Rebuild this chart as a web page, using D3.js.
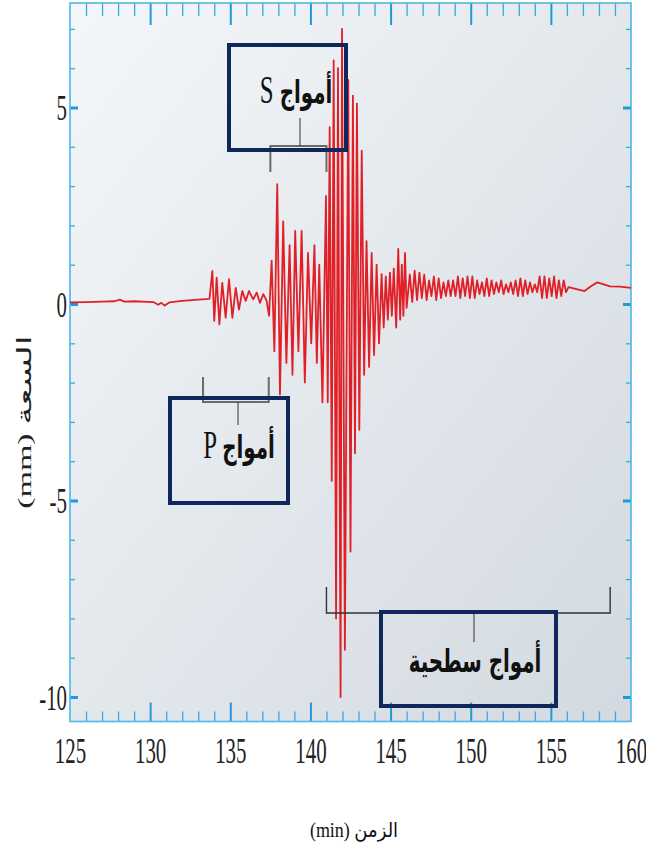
<!DOCTYPE html>
<html>
<head>
<meta charset="utf-8">
<script src="https://cdn.jsdelivr.net/npm/d3@7"></script>
<style>
  body { margin: 0; background: #fff; }
  svg { display: block; }
</style>
</head>
<body>
<div id="chart"></div>
<script>
// seismogram turning points (time in min, amplitude in mm)
const quietTime = [125, 126, 127, 127.8, 128.1, 128.4, 129, 130.2, 130.5, 130.7, 130.9, 131.2, 132, 133, 133.7];
const quietAmp  = [0.04, 0.05, 0.06, 0.07, 0.11, 0.06, 0.07, 0.05, -0.02, 0.03, -0.04, 0.04, 0.08, 0.11, 0.13];

const pTime = [133.88, 134.0, 134.15, 134.32, 134.5, 134.71, 134.92, 135.13, 135.34, 135.54, 135.75, 135.96, 136.17, 136.43, 136.65, 136.85, 137.06, 137.27];
const pAmp  = [0.84, -0.43, 0.67, -0.52, 0.54, -0.35, 0.63, -0.35, 0.41, -0.14, 0.33, 0.08, 0.33, 0.12, 0.29, 0.03, 0.25, 0.08];

const sTime = [137.42, 137.58, 137.75, 137.93, 138.1, 138.3, 138.5, 138.7, 138.88, 139.05, 139.25, 139.45, 139.65, 139.85, 140.05, 140.25, 140.4, 140.55, 140.75];
const sAmp  = [-0.3, 1.1, -1.2, 3.05, -2.3, 2.1, -1.5, 1.5, -1.8, 1.86, -1.2, 1.86, -2.0, 1.3, -1.0, 1.5, -1.5, 1.0, -2.5];

const surfTime = [140.97, 141.08, 141.2, 141.33, 141.45, 141.6, 141.72, 141.88, 141.97, 142.15, 142.36, 142.5, 142.65, 142.78, 142.9, 143.05, 143.2, 143.35, 143.5, 143.66, 143.82, 143.97, 144.13, 144.28, 144.44, 144.57, 144.7, 144.83, 144.96, 145.08, 145.2, 145.35, 145.48, 145.6, 145.7, 145.8, 145.9, 146.0];
const surfAmp  = [2.75, -2.5, 4.5, -4.5, 6.2, -8.0, 6.0, -10.0, 7.0, -8.8, 5.7, -6.3, 5.3, -3.8, 5.1, -3.2, 3.9, -1.8, 1.6, -1.6, 1.3, -1.3, 1.0, -1.0, 0.76, -0.6, 0.7, -0.4, 0.8, -0.3, 0.9, -0.6, 1.4, -0.4, 1.0, -0.3, 1.3, -0.1];

const codaTime = [146.2, 146.35, 146.5, 146.65, 146.8, 146.95, 147.1, 147.25, 147.4, 147.55, 147.7, 147.85, 148.0, 148.15, 148.3, 148.45, 148.6, 148.75, 148.9, 149.05, 149.2, 149.35, 149.5, 149.65, 149.8, 149.95, 150.1, 150.25, 150.4, 150.55, 150.7, 150.85, 151.0, 151.15, 151.3, 151.45, 151.6, 151.75, 151.9, 152.05, 152.2, 152.35, 152.5, 152.65, 152.8, 152.95, 153.1, 153.25, 153.4, 153.55, 153.7, 153.85, 154.0, 154.15, 154.3, 154.45, 154.6, 154.75, 154.9, 155.05, 155.2, 155.35, 155.5, 155.65, 155.8, 155.95];
const codaAmp  = [0.75, 0.05, 0.85, 0.1, 0.8, 0.15, 0.75, 0.1, 0.6, 0.2, 0.7, 0.1, 0.65, 0.15, 0.55, 0.2, 0.6, 0.2, 0.6, 0.2, 0.7, 0.15, 0.65, 0.2, 0.7, 0.15, 0.7, 0.15, 0.6, 0.25, 0.55, 0.2, 0.65, 0.2, 0.6, 0.25, 0.55, 0.3, 0.6, 0.25, 0.5, 0.3, 0.55, 0.25, 0.6, 0.2, 0.65, 0.2, 0.6, 0.25, 0.55, 0.3, 0.5, 0.3, 0.7, 0.15, 0.7, 0.15, 0.65, 0.2, 0.7, 0.15, 0.6, 0.2, 0.6, 0.3];

const tailTime = [156.1, 156.6, 157.1, 157.5, 157.9, 158.3, 158.7, 159.3, 160];
const tailAmp  = [0.43, 0.38, 0.33, 0.45, 0.55, 0.5, 0.45, 0.44, 0.41];

// axes
const xTicks = [125, 130, 135, 140, 145, 150, 155, 160];
const yTicks = [5, 0, -5, -10];
const xMinor = d3.range(126, 160);
const yMinor = d3.range(-10, 8);

// wave-phase brackets [start, end] in minutes and their labels
const sRange = [137.5, 141.0];
const pRange = [133.3, 137.4];
const surfRange = [141.0, 158.7];
const sLabel = ["S ", "أمواج"];
const pLabel = ["P ", "أمواج"];
const surfLabel = "أمواج سطحية";
const xTitle = ["(min) ", "الزمن"];
const yTitle = ["(mm) ", "السعة"];

const width = 646, height = 851;
const plot = { left: 70, right: 631, top: 3, bottom: 721.5 };

const svg = d3.select("#chart").append("svg")
  .attr("width", width)
  .attr("height", height);

const x = d3.scaleLinear().domain([125, 160]).range([plot.left, plot.right]);
const y = d3.scaleLinear().domain([-10, 5]).range([697, 107.5]);

// background gradient of the plot area
const defs = svg.append("defs");
const grad = defs.append("linearGradient")
  .attr("id", "bg").attr("x1", "0").attr("y1", "0").attr("x2", "1").attr("y2", "1");
grad.append("stop").attr("offset", "0%").attr("stop-color", "#f4f7f9");
grad.append("stop").attr("offset", "50%").attr("stop-color", "#e3e8ed");
grad.append("stop").attr("offset", "100%").attr("stop-color", "#d2d9e0");

svg.append("rect")
  .attr("x", plot.left).attr("y", plot.top)
  .attr("width", plot.right - plot.left).attr("height", plot.bottom - plot.top)
  .attr("fill", "url(#bg)");

// ticks: bottom + top (inward), left + right (inward)
function tickAxis(axis, values, size, tr, color, sw) {
  const g = svg.append("g")
    .attr("transform", tr)
    .call(axis.tickValues(values).tickSize(size).tickFormat(""));
  g.select(".domain").remove();
  g.selectAll("line").attr("stroke", color).attr("stroke-width", sw);
  return g;
}
const majorX = [130, 135, 140, 145, 150, 155];
tickAxis(d3.axisBottom(x), xMinor.filter(d => d % 5), -10, `translate(0,${plot.bottom})`, "#3aa9dd", 1.3);
tickAxis(d3.axisBottom(x), majorX, -19, `translate(0,${plot.bottom})`, "#1e9ada", 2);
tickAxis(d3.axisTop(x), xMinor.filter(d => d % 5), -13, `translate(0,${plot.top})`, "#3aa9dd", 1.3);
tickAxis(d3.axisTop(x), majorX, -22, `translate(0,${plot.top})`, "#1e9ada", 2);
tickAxis(d3.axisLeft(y), yMinor.filter(d => d % 5), -5, `translate(${plot.left},0)`, "#3aa9dd", 1.3);
tickAxis(d3.axisLeft(y), yTicks, -8, `translate(${plot.left},0)`, "#1e9ada", 3);
tickAxis(d3.axisRight(y), yMinor.filter(d => d % 5), -5, `translate(${plot.right},0)`, "#3aa9dd", 1.3);
tickAxis(d3.axisRight(y), yTicks, -8, `translate(${plot.right},0)`, "#1e9ada", 3);

// frame
svg.append("rect")
  .attr("x", plot.left).attr("y", plot.top)
  .attr("width", plot.right - plot.left).attr("height", plot.bottom - plot.top)
  .attr("fill", "none").attr("stroke", "#4db7e6").attr("stroke-width", 1.6);

// tick labels (tall narrow serif)
const xLab = svg.append("g")
  .attr("transform", `translate(0,${plot.bottom})`)
  .call(d3.axisBottom(x).tickValues(xTicks).tickSize(0).tickFormat(d3.format("d")));
xLab.select(".domain").remove();
xLab.selectAll("text")
  .attr("y", 0).attr("dy", 0)
  .attr("transform", "translate(0,41) scale(0.58,1)")
  .attr("fill", "#222")
  .style("font-family", "'Liberation Serif', serif")
  .style("font-size", "36px");

const yLab = svg.append("g")
  .attr("transform", `translate(${plot.left - 3},0)`)
  .call(d3.axisLeft(y).tickValues(yTicks).tickSize(0).tickFormat(d => d < 0 ? "-" + Math.abs(d) : d));
yLab.select(".domain").remove();
yLab.selectAll("text")
  .attr("x", 0).attr("dy", 0)
  .attr("transform", "translate(0,12) scale(0.58,1)")
  .attr("fill", "#222")
  .style("font-family", "'Liberation Serif', serif")
  .style("font-size", "36px");

// the seismogram
const trace = d3.zip(
  [].concat(quietTime, pTime, sTime, surfTime, codaTime, tailTime),
  [].concat(quietAmp, pAmp, sAmp, surfAmp, codaAmp, tailAmp)
);
svg.append("path")
  .datum(trace)
  .attr("fill", "none")
  .attr("stroke", "#e11f27")
  .attr("stroke-width", 1.8)
  .attr("stroke-linejoin", "round")
  .attr("d", d3.line().x(d => x(d[0])).y(d => y(d[1])));

// brackets
function bracket(range, yLine, yEnd, color, sw) {
  const x0 = x(range[0]), x1 = x(range[1]);
  svg.append("path")
    .attr("d", `M${x0},${yEnd}V${yLine}H${x1}V${yEnd}`)
    .attr("fill", "none").attr("stroke", color).attr("stroke-width", sw);
}
function stem(xm, y0, y1) {
  svg.append("line").attr("x1", xm).attr("x2", xm).attr("y1", y0).attr("y2", y1)
    .attr("stroke", "#333").attr("stroke-width", 1);
}
bracket(sRange, 146, 172, "#6b6b6b", 2);
stem(300, 118, 146);
bracket(pRange, 402, 377, "#6b6b6b", 2);
stem(238, 402, 425);
bracket(surfRange, 613, 587, "#333", 1.4);
stem(474, 613, 642);

// label boxes
function box(x0, y0, x1, y1) {
  svg.append("rect")
    .attr("x", x0).attr("y", y0).attr("width", x1 - x0).attr("height", y1 - y0)
    .attr("fill", "none").attr("stroke", "#10275c").attr("stroke-width", 4);
}
box(229, 45, 346, 150);
box(170, 398, 288, 503);
box(381, 612, 556, 706);

function waveLabel(parts, cx, cy) {
  const t = svg.append("text")
    .attr("transform", `translate(${cx},${cy}) scale(0.62,1)`)
    .attr("text-anchor", "middle")
    .attr("fill", "#111");
  t.append("tspan").text(parts[0])
    .style("font-family", "'Liberation Serif', serif").style("font-size", "40px");
  t.append("tspan").text(parts[1])
    .style("font-family", "'DejaVu Sans', sans-serif").style("font-size", "32px").style("font-weight", "bold");
}
waveLabel(sLabel, 296, 103);
waveLabel(pLabel, 239, 458);

svg.append("text")
  .attr("transform", "translate(475,672) scale(0.62,1)")
  .attr("text-anchor", "middle")
  .attr("fill", "#111")
  .style("font-family", "'DejaVu Sans', sans-serif")
  .style("font-size", "32px").style("font-weight", "bold")
  .text(surfLabel);

// axis titles
const xt = svg.append("text")
  .attr("transform", "translate(354,837) scale(0.9,1)")
  .attr("text-anchor", "middle").attr("fill", "#111");
xt.append("tspan").text(xTitle[0]).style("font-family", "'Liberation Serif', serif").style("font-size", "20px");
xt.append("tspan").text(xTitle[1]).style("font-family", "'DejaVu Sans', sans-serif").style("font-size", "20px");

const yt = svg.append("text")
  .attr("transform", "translate(31,422) rotate(-90) scale(1,0.55)")
  .attr("text-anchor", "middle").attr("fill", "#222");
yt.append("tspan").text(yTitle[0]).style("font-family", "'Liberation Serif', serif").style("font-size", "34px");
yt.append("tspan").text(yTitle[1]).style("font-family", "'DejaVu Sans', sans-serif").style("font-size", "36px");
</script>
</body>
</html>
